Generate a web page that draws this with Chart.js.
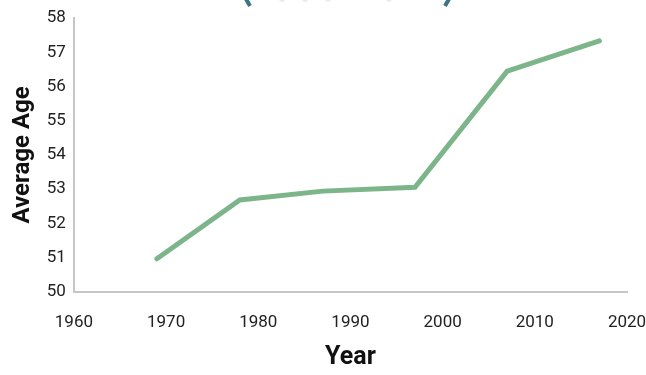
<!DOCTYPE html>
<html>
<head>
<meta charset="utf-8">
<script src="https://cdn.jsdelivr.net/npm/chart.js@4/dist/chart.umd.min.js"></script>
<style>
  html, body { margin: 0; padding: 0; background: #fff; }
  #wrap { width: 646px; height: 375px; }
</style>
</head>
<body>
<div id="wrap"><canvas id="ageChart" width="646" height="375"></canvas></div>
<script>
const years = [1969, 1978, 1987, 1997, 2007, 2017];
const avgAge = [50.96, 52.68, 52.94, 53.05, 56.45, 57.34];
const yearTicks = [1960, 1970, 1980, 1990, 2000, 2010, 2020];
const ageTicks = [50, 51, 52, 53, 54, 55, 56, 57, 58];

const labelFont = "Roboto, sans-serif";

// clipped badge edge peeking in at the top
const badgeEdge = {
  id: "badgeEdge",
  afterDraw(chart) {
    const c = chart.ctx;
    c.save();
    c.strokeStyle = "#3b7387";
    c.lineWidth = 4;
    c.lineCap = "butt";
    c.beginPath();
    c.moveTo(246, -1); c.lineTo(250, 6);
    c.moveTo(449, -1); c.lineTo(445, 6);
    c.stroke();
    c.fillStyle = "rgba(150,185,198,0.25)";
    [282, 305, 328, 389].forEach(function (x) {
      c.beginPath();
      c.arc(x, -1, 3, 0, Math.PI * 2);
      c.fill();
    });
    c.restore();
  }
};

new Chart(document.getElementById("ageChart").getContext("2d"), {
  type: "line",
  data: {
    datasets: [
      {
        data: years.map(function (y, i) { return { x: y, y: avgAge[i] }; }),
        borderColor: "#7db58a",
        borderWidth: 5,
        pointRadius: 0,
        borderCapStyle: "round",
        borderJoinStyle: "miter",
        tension: 0,
      },
    ],
  },
  options: {
    responsive: false,
    animation: false,
    layout: { padding: { top: 11, right: 0, left: 9, bottom: 2 } },
    plugins: {
      legend: { display: false },
      tooltip: { enabled: false },
    },
    scales: {
      x: {
        type: "linear",
        min: 1960,
        max: 2020,
        afterBuildTicks: function (axis) {
          axis.ticks = yearTicks.map(function (v) { return { value: v }; });
        },
        // leave just enough room on the right for half of the "2020" label
        afterFit: function (axis) {
          axis.paddingRight = 19;
        },
        grid: { display: false, drawTicks: false },
        border: { display: true, color: "#c6c6c6", width: 2 },
        ticks: {
          color: "#222",
          padding: 21,
          maxRotation: 0,
          font: { family: labelFont, size: 17 },
          callback: function (v) { return String(v); },
        },
        title: {
          display: true,
          text: "Year",
          color: "#111",
          padding: { top: -11, bottom: 0 },
          font: { family: labelFont, size: 25, weight: "bold" },
        },
      },
      y: {
        min: 50,
        max: 58,
        afterBuildTicks: function (axis) {
          axis.ticks = ageTicks.map(function (v) { return { value: v }; });
        },
        grid: { display: false, drawTicks: false },
        border: { display: true, color: "#c6c6c6", width: 2 },
        ticks: {
          color: "#222",
          padding: 8,
          font: { family: labelFont, size: 17 },
        },
        title: {
          display: true,
          text: "Average Age",
          color: "#111",
          padding: { top: 0, bottom: 1 },
          font: { family: labelFont, size: 24, weight: "bold" },
        },
      },
    },
  },
  plugins: [badgeEdge],
});
</script>
</body>
</html>
